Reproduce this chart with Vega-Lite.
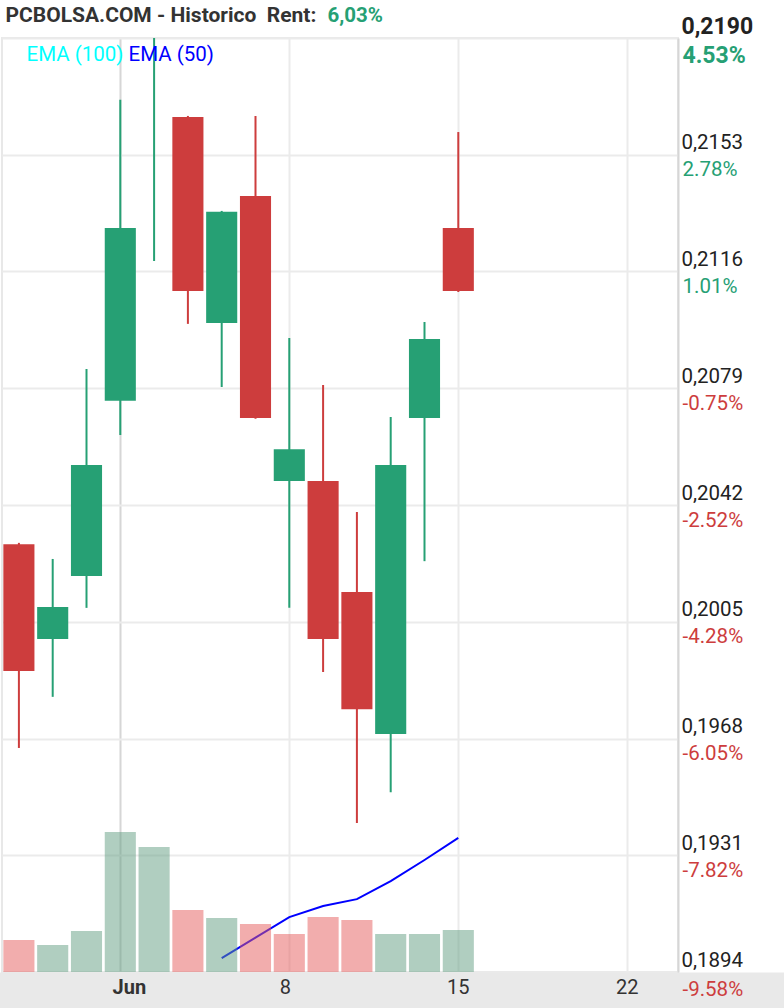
{
  "$schema": "https://vega.github.io/schema/vega-lite/v6.json",
  "width": 676,
  "height": 934,
  "autosize": "none",
  "padding": {"left": 2, "top": 38, "right": 106, "bottom": 36},
  "background": "white",
  "config": {"font": "Roboto", "view": {"stroke": "#e8e8e8", "strokeWidth": 2}},
  "datasets": {
    "candles": [
      {"date": "2020-05-27", "open": 0.20296, "high": 0.20300, "low": 0.19650, "close": 0.19894, "volume": 34261, "vol_dir": "down"},
      {"date": "2020-05-28", "open": 0.19995, "high": 0.20249, "low": 0.19812, "close": 0.20097, "volume": 28908, "vol_dir": "up"},
      {"date": "2020-05-29", "open": 0.20195, "high": 0.20851, "low": 0.20094, "close": 0.20547, "volume": 43897, "vol_dir": "up"},
      {"date": "2020-06-01", "open": 0.20750, "high": 0.21704, "low": 0.20642, "close": 0.21298, "volume": 149893, "vol_dir": "up"},
      {"date": "2020-06-02", "open": 0.21960, "high": 0.22160, "low": 0.21193, "close": 0.22100, "volume": 133833, "vol_dir": "up"},
      {"date": "2020-06-03", "open": 0.21650, "high": 0.21653, "low": 0.20994, "close": 0.21098, "volume": 66381, "vol_dir": "down"},
      {"date": "2020-06-04", "open": 0.20997, "high": 0.21352, "low": 0.20794, "close": 0.21349, "volume": 57816, "vol_dir": "up"},
      {"date": "2020-06-05", "open": 0.21399, "high": 0.21653, "low": 0.20693, "close": 0.20696, "volume": 51392, "vol_dir": "down"},
      {"date": "2020-06-08", "open": 0.20496, "high": 0.20949, "low": 0.20094, "close": 0.20597, "volume": 40685, "vol_dir": "down"},
      {"date": "2020-06-09", "open": 0.20496, "high": 0.20800, "low": 0.19891, "close": 0.19995, "volume": 58887, "vol_dir": "down"},
      {"date": "2020-06-10", "open": 0.20144, "high": 0.20398, "low": 0.19412, "close": 0.19773, "volume": 55675, "vol_dir": "down"},
      {"date": "2020-06-11", "open": 0.19694, "high": 0.20699, "low": 0.19510, "close": 0.20547, "volume": 40685, "vol_dir": "up"},
      {"date": "2020-06-12", "open": 0.20696, "high": 0.21000, "low": 0.20242, "close": 0.20946, "volume": 40685, "vol_dir": "up"},
      {"date": "2020-06-15", "open": 0.21298, "high": 0.21602, "low": 0.21095, "close": 0.21098, "volume": 44968, "vol_dir": "up"}
    ],
    "ema": [
      {"date": "2020-06-04", "ema": 0.18984, "series": "EMA (50)"},
      {"date": "2020-06-05", "ema": 0.19049, "series": "EMA (50)"},
      {"date": "2020-06-08", "ema": 0.19114, "series": "EMA (50)"},
      {"date": "2020-06-09", "ema": 0.19149, "series": "EMA (50)"},
      {"date": "2020-06-10", "ema": 0.19171, "series": "EMA (50)"},
      {"date": "2020-06-11", "ema": 0.19228, "series": "EMA (50)"},
      {"date": "2020-06-12", "ema": 0.19295, "series": "EMA (50)"},
      {"date": "2020-06-15", "ema": 0.19365, "series": "EMA (50)"}
    ]
  },
  "layer": [
    {
      "layer": [
        {
          "data": {"name": "candles"},
          "mark": {"type": "rule", "strokeWidth": 2, "clip": true},
          "encoding": {
            "x": {
              "field": "date", "type": "ordinal",
              "scale": {"domain": ["2020-05-27","2020-05-28","2020-05-29","2020-06-01","2020-06-02","2020-06-03","2020-06-04","2020-06-05","2020-06-08","2020-06-09","2020-06-10","2020-06-11","2020-06-12","2020-06-15","2020-06-16","2020-06-17","2020-06-18","2020-06-19","2020-06-22","2020-06-23"], "paddingInner": 0, "paddingOuter": 0},
              "axis": {
                "orient": "bottom",
                "title": "PCBOLSA.COM - Historico\u00a0\u00a0Rent:",
                "titleX": 3, "titleY": -951, "titleAngle": 0, "titleAlign": "left", "titleBaseline": "alphabetic",
                "titleFontSize": 21, "titleFontWeight": "bold", "titleColor": "#333333", "titleFont": "Roboto",
                "values": ["2020-06-01","2020-06-08","2020-06-15","2020-06-22"],
                "labelExpr": "datum.value == '2020-06-01' ? 'Jun' : toString(toNumber(slice(datum.value, 8)))",
                "bandPosition": 0.5,
                "grid": true, "gridWidth": 2,
                "gridColor": {"condition": {"test": "datum.value == '2020-06-01'", "value": "#d6d6d6"}, "value": "#ebebeb"},
                "ticks": true, "tickSize": 36, "tickWidth": 1000,
                "tickColor": {"condition": {"test": "datum.value == '2020-06-15'", "value": "#e9e9e9"}, "value": "transparent"},
                "domain": false,
                "labelPadding": -15, "labelBaseline": "alphabetic", "labelAngle": 0,
                "labelOffset": {"condition": [{"test": "datum.value == '2020-06-01'", "value": 9}, {"test": "datum.value == '2020-06-08'", "value": -4}], "value": 0},
                "labelFontSize": 20, "labelColor": "#333333", "labelFont": "Roboto",
                "labelFontWeight": {"condition": {"test": "datum.value == '2020-06-01'", "value": "bold"}, "value": "normal"},
                "labelOverlap": false, "labelFlush": false
              }
            },
            "y": {
              "field": "low", "type": "quantitative",
              "scale": {"domain": [0.1894, 0.219], "nice": false, "zero": false},
              "axis": {
                "orient": "right", "title": null,
                "values": [0.1894, 0.1931, 0.1968, 0.2005, 0.2042, 0.2079, 0.2116, 0.2153, 0.219],
                "labelExpr": "replace(format(datum.value, '.4f'), '.', ',')",
                "grid": true, "gridColor": "#ebebeb", "gridWidth": 2,
                "domain": true, "domainColor": "#d6d6d6", "domainWidth": 2,
                "ticks": false, "tickSize": 0,
                "labelPadding": 3, "labelBaseline": "alphabetic", "labelAlign": "left",
                "labelOffset": {"condition": {"test": "datum.value >= 0.219", "value": -5}, "value": -6},
                "labelFont": "Roboto",
                "labelFontSize": {"condition": {"test": "datum.value >= 0.219", "value": 23}, "value": 20.5},
                "labelFontWeight": {"condition": {"test": "datum.value >= 0.219", "value": "bold"}, "value": "normal"},
                "labelColor": "#222222", "labelOverlap": false, "labelFlush": false
              }
            },
            "y2": {"field": "high"},
            "color": {"condition": {"test": "datum.close >= datum.open", "value": "#26a074"}, "value": "#cd3d3d"}
          }
        },
        {
          "data": {"name": "candles"},
          "mark": {"type": "bar", "width": {"band": 0.92}, "clip": true},
          "encoding": {
            "x": {
              "field": "date", "type": "ordinal",
              "scale": {"domain": ["2020-05-27","2020-05-28","2020-05-29","2020-06-01","2020-06-02","2020-06-03","2020-06-04","2020-06-05","2020-06-08","2020-06-09","2020-06-10","2020-06-11","2020-06-12","2020-06-15","2020-06-16","2020-06-17","2020-06-18","2020-06-19","2020-06-22","2020-06-23"], "paddingInner": 0, "paddingOuter": 0}
            },
            "y": {
              "field": "open", "type": "quantitative",
              "scale": {"domain": [0.1894, 0.219], "nice": false, "zero": false},
              "axis": {
                "orient": "right",
                "title": "6,03%", "titleAngle": 0, "titleX": -351, "titleY": -17,
                "titleAlign": "left", "titleBaseline": "alphabetic",
                "titleColor": "#26a074", "titleFontSize": 20.5, "titleFontWeight": "bold", "titleFont": "Roboto",
                "values": [0.1894, 0.1931, 0.1968, 0.2005, 0.2042, 0.2079, 0.2116, 0.2153, 0.219],
                "labelExpr": "['-9.58%','-7.82%','-6.05%','-4.28%','-2.52%','-0.75%','1.01%','2.78%','4.53%'][indexof([0.1894, 0.1931, 0.1968, 0.2005, 0.2042, 0.2079, 0.2116, 0.2153, 0.219], datum.value)]",
                "grid": false, "domain": false,
                "ticks": false, "tickSize": 0,
                "labelPadding": 4, "labelBaseline": "alphabetic", "labelAlign": "left",
                "labelOffset": {"condition": [{"test": "datum.value >= 0.219", "value": 24}, {"test": "datum.value <= 0.1894", "value": 23}], "value": 21},
                "labelFont": "Roboto",
                "labelFontSize": {"condition": {"test": "datum.value >= 0.219", "value": 23}, "value": 20.5},
                "labelFontWeight": {"condition": {"test": "datum.value >= 0.219", "value": "bold"}, "value": "normal"},
                "labelColor": {"condition": {"test": "datum.value > 0.2095", "value": "#26a074"}, "value": "#cd3d3d"},
                "labelOverlap": false, "labelFlush": false
              }
            },
            "y2": {"field": "close"},
            "color": {"condition": {"test": "datum.close >= datum.open", "value": "#26a074"}, "value": "#cd3d3d"}
          }
        },
        {
          "data": {"name": "ema"},
          "mark": {"type": "line", "strokeWidth": 2, "clip": true},
          "encoding": {
            "x": {
              "field": "date", "type": "ordinal",
              "scale": {"domain": ["2020-05-27","2020-05-28","2020-05-29","2020-06-01","2020-06-02","2020-06-03","2020-06-04","2020-06-05","2020-06-08","2020-06-09","2020-06-10","2020-06-11","2020-06-12","2020-06-15","2020-06-16","2020-06-17","2020-06-18","2020-06-19","2020-06-22","2020-06-23"], "paddingInner": 0, "paddingOuter": 0}
            },
            "y": {
              "field": "ema", "type": "quantitative",
              "scale": {"domain": [0.1894, 0.219], "nice": false, "zero": false},
              "axis": null
            },
            "color": {
              "field": "series", "type": "nominal",
              "scale": {"domain": ["EMA (100)", "EMA (50)"], "range": ["#00ffff", "#0000ff"]},
              "legend": {
                "orient": "none", "legendX": 24, "legendY": 7, "direction": "horizontal",
                "title": null, "padding": 0, "symbolType": "circle", "symbolSize": 0, "symbolOpacity": 0, "symbolStrokeWidth": 0,
                "labelOffset": -20, "columnPadding": 4, "labelFontSize": 20.5, "labelFont": "Roboto",
                "encode": {"labels": {"update": {"fill": {"signal": "datum.value == 'EMA (100)' ? '#00ffff' : '#0000ff'"}}}}
              }
            }
          }
        }
      ],
      "resolve": {"axis": {"y": "independent"}}
    },
    {
      "data": {"name": "candles"},
      "mark": {"type": "bar", "width": {"band": 0.92}, "opacity": 0.5, "clip": true},
      "encoding": {
        "x": {
          "field": "date", "type": "ordinal",
          "scale": {"domain": ["2020-05-27","2020-05-28","2020-05-29","2020-06-01","2020-06-02","2020-06-03","2020-06-04","2020-06-05","2020-06-08","2020-06-09","2020-06-10","2020-06-11","2020-06-12","2020-06-15","2020-06-16","2020-06-17","2020-06-18","2020-06-19","2020-06-22","2020-06-23"], "paddingInner": 0, "paddingOuter": 0}
        },
        "y": {
          "field": "volume", "type": "quantitative",
          "scale": {"domain": [0, 1000000], "nice": false, "zero": true},
          "axis": null
        },
        "color": {"condition": {"test": "datum.vol_dir == 'up'", "value": "#619d81"}, "value": "#e55b5b"}
      }
    }
  ],
  "resolve": {"scale": {"y": "independent"}}
}
